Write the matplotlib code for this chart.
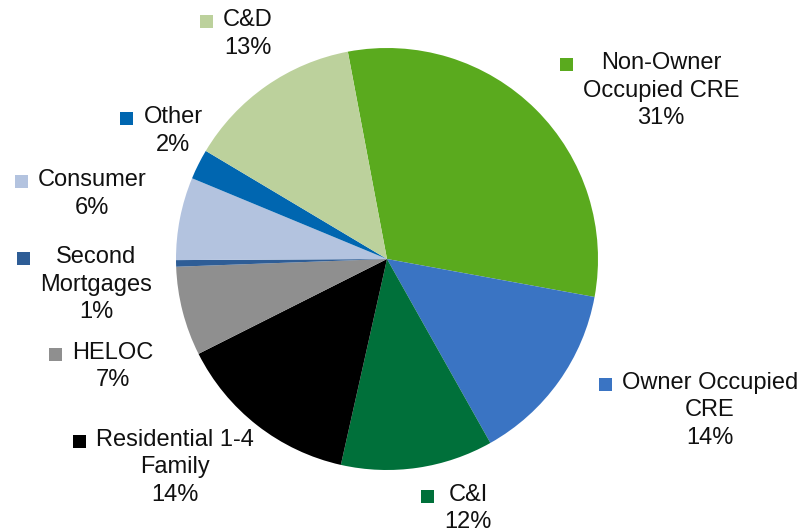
import matplotlib
matplotlib.use("Agg")
import matplotlib.pyplot as plt
from matplotlib.patches import Rectangle

plt.rcParams['font.family'] = ['Liberation Sans', 'DejaVu Sans']

# loan portfolio mix (slices clockwise from the top)
LABELS = ['Non-Owner\nOccupied CRE', 'Owner Occupied\nCRE', 'C&I',
          'Residential 1-4\nFamily', 'HELOC', 'Second\nMortgages',
          'Consumer', 'Other', 'C&D']
SHOWN = ['31%', '14%', '12%', '14%', '7%', '1%', '6%', '2%', '13%']
VALUES = [30.7, 13.9, 11.6, 14.0, 6.8, 0.5, 6.3, 2.3, 13.4]
COLORS = ['#5AAA1E', '#3A74C3', '#00703A', '#000000', '#8F8F8F',
          '#2E5D96', '#B3C3DF', '#0066B0', '#BCD19C']
# label block centre x, first line centre y (pixels from top-left)
LABEL_POS = [(661, 63), (710, 383), (468, 495), (175, 440), (113, 353),
             (96, 257), (92, 180), (173, 117), (248, 20)]

W, H = 804, 532
fig = plt.figure(figsize=(W / 100, H / 100), dpi=100)
cx, cy, r = 387, 259, 211
ax = fig.add_axes([(cx - r) / W, (H - cy - r) / H, 2 * r / W, 2 * r / H])
ax.pie(VALUES, colors=COLORS, startangle=100.7, counterclock=False,
       radius=1, wedgeprops=dict(linewidth=0))
ax.set_xlim(-1, 1)
ax.set_ylim(-1, 1)
ax.set_aspect('equal')
ax.axis('off')

fig.canvas.draw()
renderer = fig.canvas.get_renderer()
fs = 17
for lab, pct, col, (x, y) in zip(LABELS, SHOWN, COLORS, LABEL_POS):
    lines = lab.split('\n') + [pct]
    left = None
    for i, ln in enumerate(lines):
        t = fig.text(x / W, 1 - (y + i * 27.5) / H, ln, ha='center', va='center',
                     fontsize=fs, color='#111111')
        bb = t.get_window_extent(renderer)
        if left is None or bb.x0 < left:
            left = bb.x0
    # marker sits left of the widest line, level with the first one
    s = 13
    fig.patches.append(Rectangle((left - 10 - s, (H - y) - s / 2 - 1), s, s,
                                 transform=None, facecolor=col,
                                 edgecolor='none'))

fig.savefig('out.png', dpi=100)
